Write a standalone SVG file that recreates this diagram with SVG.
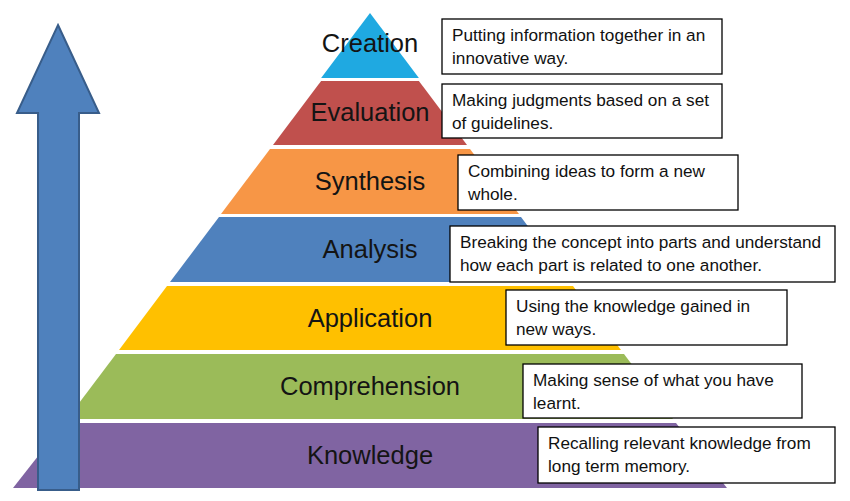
<svg xmlns="http://www.w3.org/2000/svg" width="850" height="501" viewBox="0 0 850 501">
<style>
.lbl{font-family:"Liberation Sans",Arial,sans-serif;font-size:25.5px;fill:#141414;text-anchor:middle}
.box{fill:#fff;stroke:#000;stroke-width:1.3}
.txt{font-family:"Liberation Sans",Arial,sans-serif;font-size:17.2px;fill:#111}
</style>
<rect width="850" height="501" fill="#fff"/>
<g id="pyramid">
<g id="creation"><polygon points="370,13 418.9,78 321.1,78" fill="#1FA9E1"/><text class="lbl" x="370" y="52">Creation</text></g>
<g id="evaluation"><polygon points="321.1,81 418.9,81 467,145 273,145" fill="#C0504D"/><text class="lbl" x="370" y="121">Evaluation</text></g>
<g id="synthesis"><polygon points="270,149 470,149 519,214 221,214" fill="#F79646"/><text class="lbl" x="370" y="190">Synthesis</text></g>
<g id="analysis"><polygon points="219,217 521,217 570,282 170,282" fill="#4F81BD"/><text class="lbl" x="370" y="258">Analysis</text></g>
<g id="application"><polygon points="167,286 573,286 621,350 119,350" fill="#FFC000"/><text class="lbl" x="370" y="327">Application</text></g>
<g id="comprehension"><polygon points="116,354 624,354 673,419 67,419" fill="#9BBB59"/><text class="lbl" x="370" y="395">Comprehension</text></g>
<g id="knowledge"><polygon points="64,423 676,423 727,488 13,488" fill="#8064A2"/><text class="lbl" x="370" y="464">Knowledge</text></g>
</g>
<g id="arrow"><polygon points="58,25 99,113 79,113 79,490 38,490 38,113 17,113" fill="#4F81BD" stroke="#385D8A" stroke-width="2" stroke-linejoin="miter"/></g>
<g id="desc-creation"><rect class="box" x="442" y="19" width="280" height="55"/><text class="txt" x="452" y="41">Putting information together in an</text><text class="txt" x="452" y="64">innovative way.</text></g>
<g id="desc-evaluation"><rect class="box" x="442" y="84" width="280" height="54"/><text class="txt" x="452" y="106">Making judgments based on a set</text><text class="txt" x="452" y="129">of guidelines.</text></g>
<g id="desc-synthesis"><rect class="box" x="458" y="155" width="280" height="55"/><text class="txt" x="468" y="177">Combining ideas to form a new</text><text class="txt" x="468" y="200">whole.</text></g>
<g id="desc-analysis"><rect class="box" x="450" y="226" width="385" height="56"/><text class="txt" x="460" y="248">Breaking the concept into parts and understand</text><text class="txt" x="460" y="271">how each part is related to one another.</text></g>
<g id="desc-application"><rect class="box" x="506" y="290" width="281" height="55"/><text class="txt" x="516" y="312">Using the knowledge gained in</text><text class="txt" x="516" y="335">new ways.</text></g>
<g id="desc-comprehension"><rect class="box" x="523" y="364" width="279" height="54"/><text class="txt" x="533" y="386">Making sense of what you have</text><text class="txt" x="533" y="409">learnt.</text></g>
<g id="desc-knowledge"><rect class="box" x="538" y="427" width="297" height="56"/><text class="txt" x="548" y="449">Recalling relevant knowledge from</text><text class="txt" x="548" y="472">long term memory.</text></g>
</svg>
